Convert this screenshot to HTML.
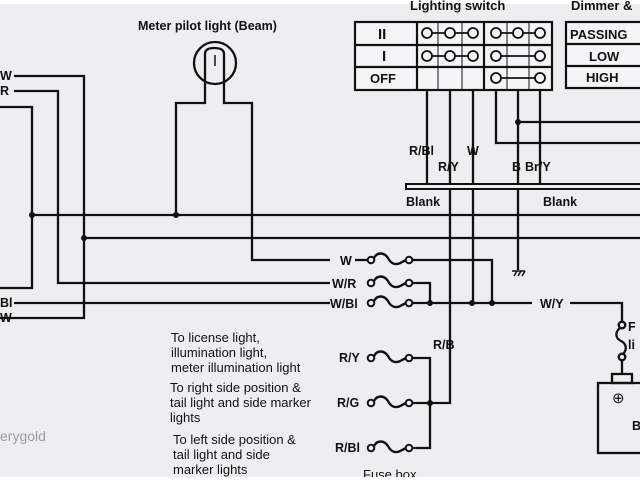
<!DOCTYPE html>
<html><head><meta charset="utf-8"><style>
html,body{margin:0;padding:0;background:#fff}
svg{display:block}
text{font-family:"Liberation Sans",Arial,sans-serif;fill:#111}
</style></head><body>
<svg width="640" height="480" viewBox="0 0 640 480" xmlns="http://www.w3.org/2000/svg">
<defs>
<g id="fuse">
<circle cx="0" cy="0" r="3.3" fill="#eceef0" stroke="#111" stroke-width="2"/>
<path d="M3,-2 C6,-8 13,-8 17,-2 C20,4 25,6 31,2 L35,0" fill="none" stroke="#111" stroke-width="2.4"/>
<circle cx="38" cy="0" r="3.3" fill="#eceef0" stroke="#111" stroke-width="2"/>
</g>
</defs>
<rect x="0" y="4" width="640" height="473" fill="#eceef0"/>
<g stroke="#111" stroke-width="2.3" fill="none">
<polyline points="14,76 84,76 84,318 0,318"/>
<polyline points="14,91 58,91 58,283 330,283"/>
<polyline points="0,107 32,107 32,288 0,288"/>
<line x1="14" y1="303" x2="330" y2="303"/>
<line x1="32" y1="215" x2="640" y2="215"/>
<line x1="84" y1="238" x2="640" y2="238"/>
<polyline points="176,215 176,103 205,103 205,62"/>
<polyline points="224,62 224,103 252,103 252,260 330,260"/>
<path d="M205,62 L205,54 Q205,48 214,48 Q224,48 224,54 L224,62"/>
<circle cx="215" cy="63" r="21"/>
<line x1="215" y1="55" x2="215" y2="66" stroke-width="1.5"/>
<line x1="427" y1="90" x2="427" y2="185"/>
<polyline points="450,90 450,403 430,403"/>
<polyline points="473,90 473,303"/>
<polyline points="496,90 496,143 640,143"/>
<polyline points="518,90 518,270"/>
<line x1="518" y1="122" x2="640" y2="122"/>
<line x1="540" y1="90" x2="540" y2="185"/>
<polyline points="410,260 492,260 492,303"/>
<polyline points="410,283 430,283 430,303"/>
<line x1="410" y1="303" x2="532" y2="303"/>
<polyline points="570,303 622,303 622,322"/>
<line x1="622" y1="358" x2="622" y2="374"/>
<polyline points="410,358 430,358 430,448 410,448"/>
<line x1="410" y1="403" x2="430" y2="403"/>
<rect x="598" y="383" width="50" height="70"/>
<rect x="612" y="374" width="20" height="9"/>
</g>
<g stroke="#111" stroke-width="1.5">
<line x1="512" y1="271" x2="525" y2="271"/>
<line x1="514" y1="276" x2="517" y2="271"/><line x1="518" y1="276" x2="521" y2="271"/><line x1="522" y1="276" x2="525" y2="271"/>
</g>
<g stroke="#111" stroke-width="2.3" fill="none">
<circle cx="622" cy="325" r="3.3" fill="#eceef0"/>
<path d="M620,328 C615,332 615,338 621,341 C627,344 627,350 623,354"/>
<circle cx="622" cy="357" r="3.3" fill="#eceef0"/>
</g>
<rect x="406" y="184" width="240" height="5" fill="#eceef0" stroke="#111" stroke-width="2"/>
<g fill="#111">
<circle cx="32" cy="215" r="3"/><circle cx="176" cy="215" r="3"/><circle cx="84" cy="238" r="3"/>
<circle cx="430" cy="303" r="3"/><circle cx="472" cy="303" r="3"/><circle cx="492" cy="303" r="3"/>
<circle cx="518" cy="122" r="3"/><circle cx="430" cy="403" r="3"/>
</g>
<use href="#fuse" x="371" y="260"/>
<use href="#fuse" x="371" y="283"/>
<use href="#fuse" x="371" y="303"/>
<use href="#fuse" x="371" y="358"/>
<use href="#fuse" x="371" y="403"/>
<use href="#fuse" x="371" y="448"/>
<line x1="355" y1="260" x2="367" y2="260" stroke="#111" stroke-width="2.3"/>
<g stroke="#111" stroke-width="2.2" fill="#eceef0">
<rect x="355" y="22" width="197" height="68" fill="#f4f5f6"/>
<line x1="355" y1="45" x2="552" y2="45"/><line x1="355" y1="67" x2="552" y2="67"/>
<line x1="417" y1="22" x2="417" y2="90"/><line x1="438" y1="22" x2="438" y2="90" stroke-width="1"/>
<line x1="462" y1="22" x2="462" y2="90" stroke-width="1"/><line x1="484" y1="22" x2="484" y2="90"/>
<line x1="507" y1="22" x2="507" y2="90" stroke-width="1"/><line x1="529" y1="22" x2="529" y2="90" stroke-width="1"/>
<rect x="566" y="22" width="80" height="66" fill="#f4f5f6"/>
<line x1="566" y1="44" x2="640" y2="44"/><line x1="566" y1="66" x2="640" y2="66"/>
</g>
<g stroke="#111" stroke-width="1.8" fill="#f4f5f6">
<line x1="427" y1="33" x2="473" y2="33"/><line x1="496" y1="33" x2="540" y2="33"/>
<line x1="427" y1="56" x2="473" y2="56"/><line x1="496" y1="56" x2="540" y2="56"/>
<line x1="496" y1="78" x2="540" y2="78"/>
<circle cx="427" cy="33" r="5"/><circle cx="450" cy="33" r="5"/><circle cx="473" cy="33" r="5"/>
<circle cx="496" cy="33" r="5"/><circle cx="518" cy="33" r="5"/><circle cx="540" cy="33" r="5"/>
<circle cx="427" cy="56" r="5"/><circle cx="450" cy="56" r="5"/><circle cx="473" cy="56" r="5"/>
<circle cx="496" cy="56" r="5"/><circle cx="540" cy="56" r="5"/>
<circle cx="496" cy="78" r="5"/><circle cx="540" cy="78" r="5"/>
</g>
<g font-size="13" font-weight="bold">
<text x="378" y="39" font-family="Liberation Serif" font-size="15">II</text>
<text x="382" y="61" font-family="Liberation Serif" font-size="15">I</text>
<text x="370" y="83">OFF</text>
<text x="570" y="39">PASSING</text>
<text x="589" y="61">LOW</text>
<text x="586" y="82">HIGH</text>
<text x="410" y="10">Lighting switch</text>
<text x="571" y="10">Dimmer &amp;</text>
</g>
<g font-size="12.5" font-weight="bold">
<text x="138" y="30">Meter pilot light (Beam)</text>
<text x="0" y="80">W</text><text x="0" y="95">R</text>
<text x="0" y="307">Bl</text><text x="0" y="322">W</text>
<text x="409" y="155">R/Bl</text><text x="438" y="171">R/Y</text><text x="467" y="155">W</text>
<text x="512" y="171">B</text><text x="525" y="171">Br/Y</text>
<text x="406" y="206">Blank</text><text x="543" y="206">Blank</text>
<text x="340" y="265">W</text><text x="332" y="288">W/R</text><text x="330" y="308">W/Bl</text>
<text x="540" y="308">W/Y</text>
<text x="433" y="349">R/B</text>
<text x="339" y="362">R/Y</text><text x="337" y="407">R/G</text><text x="335" y="452">R/Bl</text>
<text x="628" y="331">F</text><text x="628" y="349">li</text>
<text x="632" y="430">B</text>
</g>
<text x="612" y="403" font-size="15">⊕</text>
<g font-size="13">
<text x="171" y="342">To license light,</text>
<text x="171" y="357">illumination light,</text>
<text x="171" y="372">meter illumination light</text>
<text x="170" y="392">To right side position &amp;</text>
<text x="170" y="407">tail light and side marker</text>
<text x="170" y="422">lights</text>
<text x="173" y="444">To left side position &amp;</text>
<text x="173" y="459">tail light and side</text>
<text x="173" y="474">marker lights</text>
<text x="363" y="479">Fuse box</text>
</g>
<text x="0" y="441" font-size="14" style="fill:#9a9ea2">erygold</text>
<rect x="0" y="477" width="640" height="3" fill="#fff"/>
</svg>
</body></html>
